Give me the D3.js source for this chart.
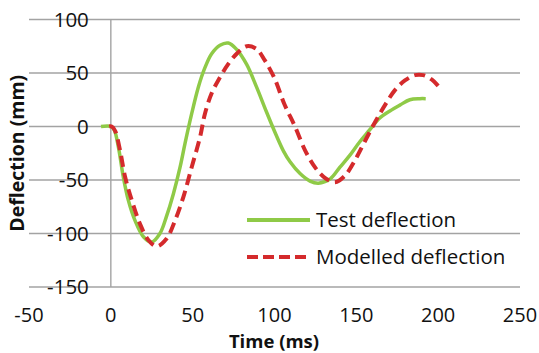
<!DOCTYPE html>
<html>
<head>
<meta charset="utf-8">
<script src="https://cdn.jsdelivr.net/npm/d3@7"></script>
<style>
  body { margin: 0; background: #fff; }
  svg text { font-family: "Open Sans", "Noto Sans", sans-serif; fill: #111; }
</style>
</head>
<body>
<div class="chart"></div>
<script>
// values
var testTime = [-6, 0, 2, 4.6, 7.6, 10.7, 14.8, 19.9, 25, 30, 34, 38.2, 42.3, 45.3, 49.4, 53.5, 57.5, 61.6, 66.7, 71.8, 76.9, 83, 89, 95, 101, 105.5, 109.5, 115.6, 121.7, 126.8, 134, 140, 146, 152, 158, 164, 170.5, 176.6, 182.7, 188.8, 192.4];
var testDeflection = [0, 0, -3, -19, -47, -69, -88, -103, -108, -100, -84, -63, -38, -16, 12, 37, 55, 68, 76, 78, 72, 58, 37, 14, -8, -23, -33, -44, -51, -53, -49, -38, -27, -14.5, -3.5, 7.5, 14.5, 20, 25, 26, 26];

var modelTime = [-1, 0.5, 2.6, 5.6, 8.7, 12.8, 17.8, 22.9, 28, 34, 39.2, 44.3, 49.4, 54.5, 57.5, 61.6, 66.7, 71.8, 76.9, 83, 89, 94, 100, 106, 112.5, 118.6, 124.7, 130.8, 137, 143, 149, 155, 161.4, 167.5, 173.6, 179.7, 185.8, 190.9, 196, 200];
var modelDeflection = [0, 0, -4, -22, -47, -69, -91, -106, -112, -105, -88, -66, -38, -10, 12, 31, 46, 58.5, 68, 75, 72.5, 62, 45, 21, 0, -22, -38, -48, -52, -46, -32, -14.5, 4, 20, 34, 43, 48, 48, 44, 38];

var xTicks = [-50, 0, 50, 100, 150, 200, 250];
var yTicks = [-150, -100, -50, 0, 50, 100];
var seriesNames = ["Test deflection", "Modelled deflection"];

var w = 539, h = 353;
var green = "#8fca47", red = "#d42a2c";

var svg = d3.select("div.chart")
  .append("svg")
  .attr("width", w)
  .attr("height", h);

var x = d3.scaleLinear().domain([-50, 250]).range([29, 520]);
var y = d3.scaleLinear().domain([-150, 100]).range([287, 19.5]);

//gridlines, these run from x=-50 over to 250
svg.append("g")
  .selectAll("line")
  .data(yTicks)
  .join("line")
  .attr("x1", x(-50))
  .attr("x2", x(250))
  .attr("y1", d => y(d))
  .attr("y2", d => y(d))
  .attr("stroke", "#a3a3a3")
  .attr("stroke-width", 1.4);

//vertical axis crosses at time 0
svg.append("line")
  .attr("x1", x(0)).attr("x2", x(0))
  .attr("y1", y(100)).attr("y2", y(-150))
  .attr("stroke", "#a3a3a3")
  .attr("stroke-width", 1.4);

//tick labels
svg.append("g")
  .selectAll("text")
  .data(yTicks)
  .join("text")
  .attr("x", x(0) - 22)
  .attr("y", d => y(d))
  .attr("dy", "0.35em")
  .attr("text-anchor", "end")
  .style("font-size", "20.5px")
  .text(d => d);

svg.append("g")
  .selectAll("text")
  .data(xTicks)
  .join("text")
  .attr("x", d => x(d))
  .attr("y", 315)
  .attr("dy", "0.35em")
  .attr("text-anchor", "middle")
  .style("font-size", "20px")
  .text(d => d);

//axis titles
svg.append("text")
  .attr("x", 274)
  .attr("y", 348)
  .attr("text-anchor", "middle")
  .style("font-size", "18.5px")
  .style("font-weight", "bold")
  .text("Time (ms)");

svg.append("text")
  .attr("transform", "translate(17," + ((y(100) + y(-150)) / 2) + ") rotate(-90)")
  .attr("dy", "0.35em")
  .attr("text-anchor", "middle")
  .style("font-size", "19.5px")
  .style("font-weight", "bold")
  .text("Deflection (mm)");

//series
var line = d3.line()
  .x(d => x(d[0]))
  .y(d => y(d[1]))
  .curve(d3.curveCatmullRom.alpha(0.5));

var testData = d3.zip(testTime, testDeflection);
var modelData = d3.zip(modelTime, modelDeflection);

svg.append("path")
  .datum(testData)
  .attr("d", line)
  .attr("fill", "none")
  .attr("stroke", green)
  .attr("stroke-width", 3.5)
  .attr("stroke-linejoin", "round");

svg.append("path")
  .datum(modelData)
  .attr("d", line)
  .attr("fill", "none")
  .attr("stroke", red)
  .attr("stroke-width", 4)
  .attr("stroke-dasharray", "11,6");

//legend
var legend = svg.append("g");
var legendRows = [
  {name: seriesNames[0], color: green, dash: null, y: 220},
  {name: seriesNames[1], color: red, dash: "11,5", y: 257}
];
legendRows.forEach(function(r){
  legend.append("line")
    .attr("x1", 247).attr("x2", 310)
    .attr("y1", r.y).attr("y2", r.y)
    .attr("stroke", r.color)
    .attr("stroke-width", 4)
    .attr("stroke-dasharray", r.dash);
  legend.append("text")
    .attr("x", 316)
    .attr("y", r.y)
    .attr("dy", "0.35em")
    .style("font-size", "20.5px")
    .text(r.name);
});
</script>
</body>
</html>
